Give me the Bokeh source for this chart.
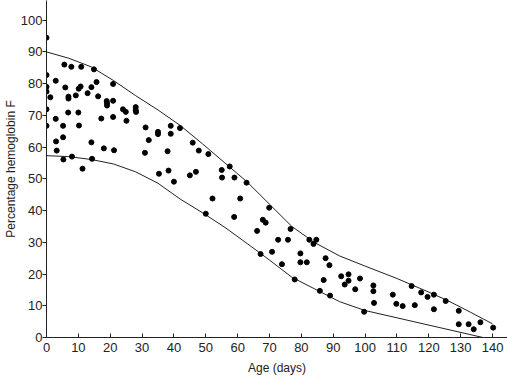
from bokeh.plotting import figure
from bokeh.models import Range1d, FixedTicker
from bokeh.embed import file_html
from bokeh.resources import INLINE

# Scatter data: age (days) and percentage hemoglobin F
age_days = [
    0, 0, 0, 0, 1.2, 2.9, 0, 0, 2.9, 3.0, 3.2, 5.3, 5.2, 5.2, 5.6, 7.8, 5.9, 6.9, 6.9, 6.8,
    8.0, 9.2, 10.0, 10.2, 10.9, 10.1, 10.7, 11.3, 12.9, 14.1, 14.1, 14.3, 14.9, 15.7, 16.2,
    17.2, 18.0, 18.9, 19.0, 19.0, 20.9, 20.9, 20.9, 21.2, 24.0, 24.9, 25.1, 28.0, 28.0, 28.1,
    31.1, 32.1, 30.9,
    35.0, 35.0, 39.0, 39.0, 41.9, 38.0, 35.3, 38.3, 40.0, 45.0, 46.9, 45.9, 47.8, 50.8,
    55.0, 55.1, 57.5, 59.0, 62.8, 52.1, 60.8, 50.0, 58.9,
    69.9, 67.9, 68.8, 66.1, 76.6, 72.7, 75.8, 82.5, 84.7, 83.8, 67.2, 70.8, 73.9, 79.7,
    79.7, 81.7, 87.6, 88.8, 77.9, 87.0, 85.8, 89.0, 92.5, 94.8, 94.8, 93.6, 96.9, 98.4,
    99.7, 102.6, 102.6, 102.8, 108.7, 109.8, 111.8, 114.6, 115.6, 117.6, 119.6, 121.6,
    121.6, 125.3, 129.4, 129.4, 132.5, 134.1, 136.2, 140.2,
]
hbf_pct = [
    94.5, 82.7, 79.0, 77.5, 75.7, 80.9, 71.9, 66.7, 68.9, 61.8, 58.9, 56.1, 63.1, 66.7, 86.0,
    85.3, 78.8, 75.9, 75.3, 70.9, 57.0, 76.3, 70.9, 66.8, 85.3, 78.4, 79.1, 53.2, 77.0, 78.9,
    61.5, 56.3, 84.5, 80.5, 76.0, 69.0, 59.6, 74.5, 73.8, 73.1, 79.9, 74.6, 69.5, 59.0, 71.9,
    71.1, 68.3, 72.6, 71.7, 71.1, 66.2, 62.2, 58.2,
    64.8, 64.1, 66.7, 64.2, 66.0, 58.7, 51.6, 52.6, 49.1, 51.1, 52.2, 61.4, 58.9, 57.8,
    52.8, 50.4, 53.9, 50.4, 48.8, 43.8, 43.8, 39.0, 38.0,
    40.9, 37.1, 36.2, 33.6, 34.2, 30.8, 30.8, 30.8, 30.8, 29.5, 26.3, 27.0, 23.1, 26.5,
    23.7, 23.7, 25.0, 22.8, 18.3, 18.1, 14.7, 13.2, 19.3, 19.9, 17.9, 16.7, 15.2, 18.6,
    8.1, 16.4, 14.6, 10.9, 13.5, 10.6, 9.9, 16.2, 10.2, 14.2, 12.8, 13.5,
    8.9, 11.5, 8.4, 4.2, 4.2, 2.6, 4.8, 3.1,
]

# Envelope curves
upper_x = [0, 7, 14, 21, 28, 35, 42, 49, 56, 63, 70, 77, 84, 92, 100, 110, 120, 126, 133, 140]
upper_y = [90.0, 88.0, 85.3, 81.0, 76.2, 71.7, 66.8, 61.0, 55.0, 49.0, 42.0, 35.0, 30.0,
           25.7, 22.5, 18.6, 14.3, 11.6, 8.0, 4.3]
lower_x = [0, 7, 14, 21, 28, 35, 42, 49, 56, 63, 70, 77, 84, 92, 100, 137]
lower_y = [57.3, 57.0, 56.1, 54.7, 52.2, 48.6, 43.6, 39.3, 34.7, 29.6, 24.4, 19.0, 15.4,
           11.3, 8.5, 0.0]

x_ticks = [0, 10, 20, 30, 40, 50, 60, 70, 80, 90, 100, 110, 120, 130, 140]
y_ticks = [0, 10, 20, 30, 40, 50, 60, 70, 80, 90, 100]

FONT = "Liberation Sans"

p = figure(width=507, height=377, output_backend="svg", toolbar_location=None,
           x_range=Range1d(0, 144.7), y_range=Range1d(0, 106.2),
           min_border_left=0, min_border_right=0, min_border_top=0, min_border_bottom=38)
p.outline_line_color = None
p.grid.visible = False
p.background_fill_color = "white"

p.line(upper_x, upper_y, line_color="#222222", line_width=1)
p.line(lower_x, lower_y, line_color="#222222", line_width=1)
p.scatter(age_days, hbf_pct, size=5, color="black")

for ax in (p.xaxis[0], p.yaxis[0]):
    ax.axis_line_color = "#222222"
    ax.major_tick_line_color = "#222222"
    ax.minor_tick_line_color = None
    ax.major_label_text_font = FONT
    ax.major_label_text_font_size = "13px"
    ax.major_label_text_color = "#222222"
    ax.axis_label_text_font = FONT
    ax.axis_label_text_font_size = "12px"
    ax.axis_label_text_font_style = "normal"
    ax.axis_label_text_color = "#222222"

p.xaxis.ticker = FixedTicker(ticks=x_ticks)
p.yaxis.ticker = FixedTicker(ticks=y_ticks)
p.xaxis.axis_label = "Age (days)"
p.yaxis.axis_label = "Percentage hemoglobin F"
p.xaxis.major_tick_in = 4
p.xaxis.major_tick_out = 0
p.xaxis.major_label_standoff = 5
p.xaxis.axis_label_standoff = 6
p.yaxis.major_tick_in = 0
p.yaxis.major_tick_out = 4
p.yaxis.major_label_standoff = 0
p.yaxis.axis_label_standoff = 0

open("out.html", "w").write(file_html(p, INLINE))
